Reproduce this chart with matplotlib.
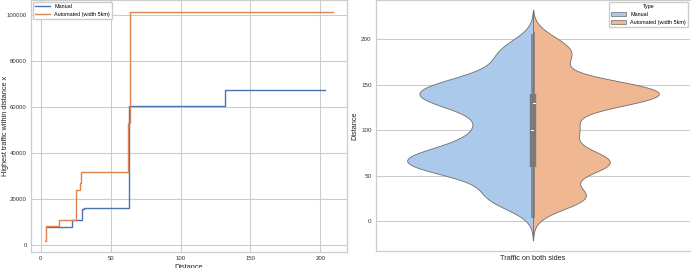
import numpy as np
import matplotlib
matplotlib.use("Agg")
from matplotlib import pyplot as plt
from matplotlib.patches import Patch

plt.rcParams['font.family'] = ['Liberation Sans', 'DejaVu Sans']

# ---- left panel: step curves (distance, highest traffic within distance)
manual_dist = [4.1, 22.5, 29.6, 31.0, 62.8, 132.0, 203.6]
manual_traffic = [7800, 10800, 15500, 16300, 60300, 67300, 67300]
auto_dist = [3.3, 3.6, 13.1, 23.2, 25.3, 28.0, 28.9, 62.1, 63.8, 208.8]
auto_traffic = [2000, 8200, 10800, 11000, 23800, 27000, 31600, 53200, 101400, 101400]

# ---- right panel: distances of observations (value, count)
manual_pts = [3, 10, 20, 30, 40, 50, 60, 70, 80, 90, 100, 110, 120, 130, 140, 150, 160, 170, 180, 190, 200, 206]
manual_cnt = [2, 2, 52, 54, 27, 58, 137, 144, 71, 54, 53, 47, 39, 105, 125, 102, 48, 26, 36, 40, 10, 2]
auto_pts = [3, 10, 20, 30, 40, 50, 60, 70, 80, 90, 100, 110, 120, 130, 140, 150, 160, 170, 180, 190, 200, 208]
auto_cnt = [2, 1, 53, 83, 4, 23, 97, 88, 22, 22, 64, 33, 3, 104, 166, 109, 1, 18, 46, 37, 25, 1]

labels = ["Manual", "Automated (width 5km)"]
deep = ["#4c72b0", "#dd8452"]
pastel = ["#abc9ea", "#efb792"]
gridc = "#cccccc"

fig = plt.figure(figsize=(6.91, 2.68), dpi=100)

# ---------------- left
ax1 = fig.add_axes([31/691, 1-252/268, 316/691, 252/268 - 0.001])
ax1.step(manual_dist, manual_traffic, where='post', color=deep[0], lw=1.0, label=labels[0])
ax1.step(auto_dist, auto_traffic, where='post', color=deep[1], lw=1.0, label=labels[1])
ax1.grid(True, color=gridc, lw=0.8)
ax1.set_axisbelow(True)
for s in ax1.spines.values():
    s.set_color(gridc)
    s.set_linewidth(0.9)
ax1.tick_params(length=0, labelsize=4.3, pad=3, labelcolor="#333333")
ax1.set_xlabel("Distance", fontsize=5.3, labelpad=2, color="#222222")
ax1.set_ylabel("Highest traffic within distance x", fontsize=5.3, color="#222222")
ax1.yaxis.set_label_coords(-0.071, 0.5)
ax1.set_xticks([0, 50, 100, 150, 200])
ax1.set_yticks([0, 20000, 40000, 60000, 80000, 100000])
ax1.legend(loc="upper left", fontsize=3.9, handlelength=2.7, borderaxespad=0.35,
           frameon=True, edgecolor=gridc, fancybox=True, framealpha=1)

# ---------------- right
ax2 = fig.add_axes([375.7/691, 1-250.7/268, 314.6/691, 250.7/268])
bw = 12.0
sides = [-1, 1]
stats = []
for pts, cnt, col, side in zip([manual_pts, auto_pts], [manual_cnt, auto_cnt], pastel, sides):
    pts = np.array(pts, float)
    cnt = np.array(cnt, float)
    grid = np.linspace(pts.min() - 2*bw, pts.max() + 2*bw, 400)
    dens = (cnt[None, :] * np.exp(-0.5*((grid[:, None] - pts[None, :])/bw)**2)).sum(axis=1)
    half = dens / dens.max() * 0.4
    ax2.fill_betweenx(grid, 0, side*half, facecolor=col, edgecolor="#6e6e6e", lw=0.6, zorder=2)
    data = np.repeat(pts, cnt.astype(int))
    q1, med, q3 = np.percentile(data, [25, 50, 75])
    stats.append((data.min(), q1, med, q3, data.max(), side))

for lo, q1, med, q3, hi, side in stats:
    x = side*0.003
    ax2.plot([x, x], [lo, hi], color="#7a7a7a", lw=1.1, zorder=3, solid_capstyle='butt')
    ax2.plot([x, x], [q1, q3], color="#7a7a7a", lw=3.2, zorder=3, solid_capstyle='butt')
    ax2.plot([x - 0.002, x + 0.002], [med, med], color="white", lw=0.8, zorder=4)

ax2.set_xlim(-0.5, 0.5)
ax2.set_ylim(-32.5, 243)
ax2.set_xticks([])
ax2.set_yticks([0, 50, 100, 150, 200])
ax2.yaxis.grid(True, color=gridc, lw=0.8)
ax2.set_axisbelow(True)
for s in ax2.spines.values():
    s.set_color(gridc)
    s.set_linewidth(0.9)
ax2.spines['right'].set_visible(False)
ax2.tick_params(length=0, labelsize=4.5, pad=3, labelcolor="#333333")
ax2.set_xlabel("Traffic on both sides", fontsize=5.3, labelpad=3, color="#222222")
ax2.set_ylabel("Distance", fontsize=5.3, labelpad=2, color="#222222")
handles = [Patch(facecolor=c, edgecolor="#6e6e6e", lw=0.5) for c in pastel]
leg = ax2.legend(handles, labels, title="Type", loc="upper right", fontsize=3.9,
                 title_fontsize=3.9, borderaxespad=0.4, edgecolor=gridc, framealpha=1,
                 handlelength=2.7, handleheight=0.7)

fig.savefig("out.png", dpi=100)
